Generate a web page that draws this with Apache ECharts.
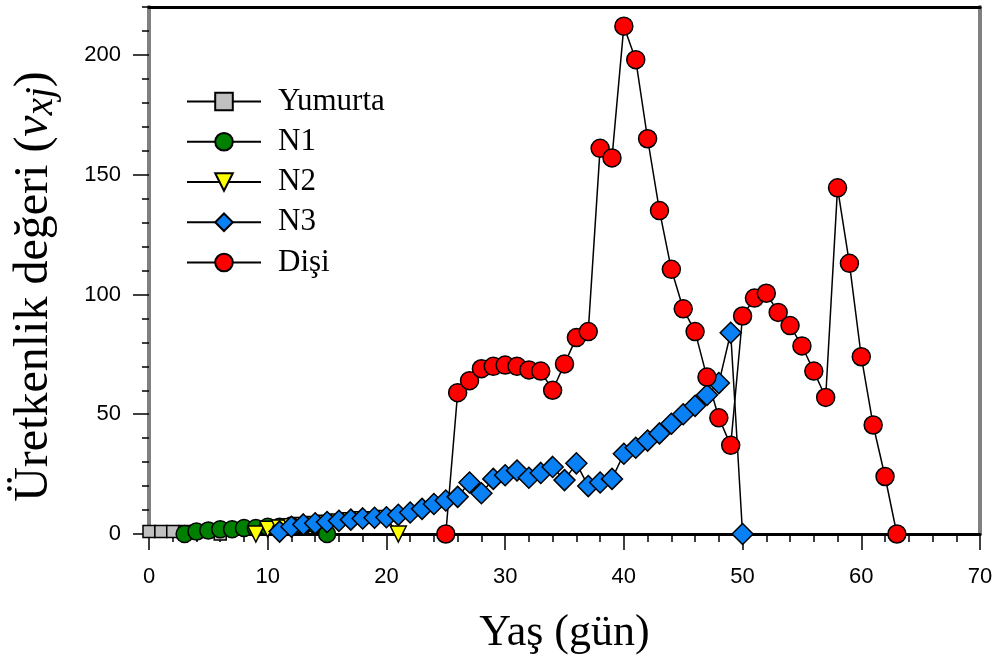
<!DOCTYPE html>
<html>
<head>
<meta charset="utf-8">
<script src="https://cdn.jsdelivr.net/npm/echarts@6/dist/echarts.min.js"></script>
<style>
html,body{margin:0;padding:0;background:#fff;}
#c{width:1002px;height:661px;}
</style>
</head>
<body>
<div id="c"></div>
<script>
// ---- data ----
var yumurtaDays = [0, 1, 2, 3, 4, 5, 6];
var yumurtaVals = [1, 1, 1, 1, 1, 1, 0];

var n1Days = [3, 4, 5, 6, 7, 8, 9, 10, 11, 12, 13, 14, 15];
var n1Vals = [0, 1, 1.5, 2, 2, 2.5, 2.5, 3, 3, 3.5, 3.5, 4, 0];

var n2Days = [9, 10, 11, 12, 13, 14, 15, 16, 17, 18, 19, 20, 21];
var n2Vals = [0, 2, 2.5, 3, 3.5, 4, 4.5, 5, 5.5, 6, 6, 6.5, 0];

var n3Days = [11, 12, 13, 14, 15, 16, 17, 18, 19, 20, 21, 22, 23, 24, 25, 26, 27, 28, 29, 30,
              31, 32, 33, 34, 35, 36, 37, 38, 39, 40, 41, 42, 43, 44, 45, 46, 47, 48, 49, 50];
var n3Vals = [1, 3, 4, 4.5, 5, 5.5, 6, 6.5, 6.8, 7, 8, 9, 10.5, 12.5, 14, 15.5, 21.5, 17, 23, 24.5,
              26.5, 23.5, 25.5, 28, 22.5, 29.5, 20, 21.5, 23, 33.5, 36, 39, 42, 46, 50, 53.5, 58, 63, 84, 0];

var disiDays = [25, 26, 27, 28, 29, 30, 31, 32, 33, 34, 35, 36, 37, 38, 39, 40, 41, 42, 43, 44,
                45, 46, 47, 48, 49, 50, 51, 52, 53, 54, 55, 56, 57, 58, 59, 60, 61, 62, 63];
var disiVals = [0, 59, 64, 69, 70, 70.5, 70, 68.5, 68, 60, 71, 82, 84.5, 161, 157, 212, 198, 165, 135, 110.5,
                94, 84.5, 65.5, 48.5, 37, 91, 98.5, 100.5, 92.5, 87, 78.5, 68, 57, 144.5, 113, 74, 45.5, 24, 0];

var yMajorTicks = [0, 50, 100, 150, 200];
var seriesNames = ['Yumurta', 'N1', 'N2', 'N3', 'Dişi'];

function pairs(xs, ys) { return xs.map(function (x, i) { return [x, ys[i]]; }); }

var chart = echarts.init(document.getElementById('c'), null, {renderer: 'canvas'});

function mkSeries(name, xs, ys, symbol, size, color, rotate) {
  return {
    name: name,
    type: 'line',
    data: pairs(xs, ys),
    symbol: symbol,
    symbolSize: size,
    symbolRotate: rotate || 0,
    showAllSymbol: true,
    clip: false,
    lineStyle: {color: '#000', width: 1.5},
    itemStyle: {color: color, borderColor: '#000', borderWidth: 1.5},
    emphasis: {disabled: true}
  };
}

var serifFont = '"Liberation Serif", "Times New Roman", serif';
var sansFont = '"Liberation Sans", Arial, sans-serif';

chart.setOption({
  animation: false,
  backgroundColor: '#fff',
  grid: {left: 149, right: 22, top: 7, bottom: 127, containLabel: false},
  legend: {
    orient: 'vertical',
    left: 186,
    top: 86,
    padding: 0,
    itemWidth: 74,
    itemHeight: 22,
    itemGap: 9.25,
    data: seriesNames,
    textStyle: {fontFamily: serifFont, fontSize: 31, color: '#000', padding: [0, 0, 0, 12], lineHeight: 31}
  },
  xAxis: [{
    type: 'value',
    min: 0, max: 70, interval: 10,
    position: 'bottom',
    name: 'Yaş (gün)',
    nameLocation: 'middle',
    nameGap: 77,
    nameTextStyle: {fontFamily: serifFont, fontSize: 44, color: '#000'},
    axisLine: {show: true, onZero: false, lineStyle: {color: '#000', width: 3}},
    axisTick: {show: true, inside: false, length: 16, lineStyle: {color: '#000', width: 1.5}},
    minorTick: {show: true, splitNumber: 5, length: 8, lineStyle: {color: '#000', width: 1.5}},
    axisLabel: {fontFamily: sansFont, fontSize: 22, color: '#000', margin: 32},
    splitLine: {show: false}
  }, {
    type: 'value',
    min: 0, max: 70,
    position: 'top',
    axisLine: {show: true, onZero: false, lineStyle: {color: '#000', width: 3}},
    axisTick: {show: false}, axisLabel: {show: false}, splitLine: {show: false}
  }],
  yAxis: [{
    type: 'value',
    min: 0, max: 220,
    position: 'left',
    name: '{a|Üretkenlik değeri (}{b|v}{c|xj}{a|)}',
    nameLocation: 'middle',
    nameGap: 88,
    nameTextStyle: {
      color: '#000',
      padding: [0, 32, 0, 0],
      rich: {
        a: {fontFamily: serifFont, fontSize: 48, color: '#000'},
        b: {fontFamily: serifFont, fontSize: 48, fontStyle: 'italic', color: '#000'},
        c: {fontFamily: serifFont, fontSize: 39, fontStyle: 'italic', color: '#000', padding: [14, 0, 0, 0]}
      }
    },
    axisLine: {show: true, onZero: false, lineStyle: {color: '#808080', width: 4}},
    axisTick: {show: true, inside: false, length: 16, customValues: yMajorTicks, lineStyle: {color: '#000', width: 1.5}},
    axisLabel: {fontFamily: sansFont, fontSize: 22, color: '#000', margin: 28, customValues: yMajorTicks},
    splitLine: {show: false}
  }, {
    type: 'value',
    min: 0, max: 220, interval: 10,
    position: 'left',
    axisLine: {show: false},
    axisTick: {show: true, inside: false, length: 7, lineStyle: {color: '#000', width: 1.5}},
    axisLabel: {show: false},
    splitLine: {show: false}
  }, {
    type: 'value',
    min: 0, max: 220,
    position: 'right',
    axisLine: {show: true, onZero: false, lineStyle: {color: '#808080', width: 4}},
    axisTick: {show: false}, axisLabel: {show: false}, splitLine: {show: false}
  }],
  series: [
    mkSeries('Yumurta', yumurtaDays, yumurtaVals, 'rect', 12, '#c0c0c0'),
    mkSeries('N1', n1Days, n1Vals, 'circle', 17, '#008000'),
    mkSeries('N2', n2Days, n2Vals, 'triangle', 16, '#ffff00', 180),
    mkSeries('N3', n3Days, n3Vals, 'diamond', 21, '#0a80f5'),
    mkSeries('Dişi', disiDays, disiVals, 'circle', 18, '#ff0000')
  ]
});
</script>
</body>
</html>
